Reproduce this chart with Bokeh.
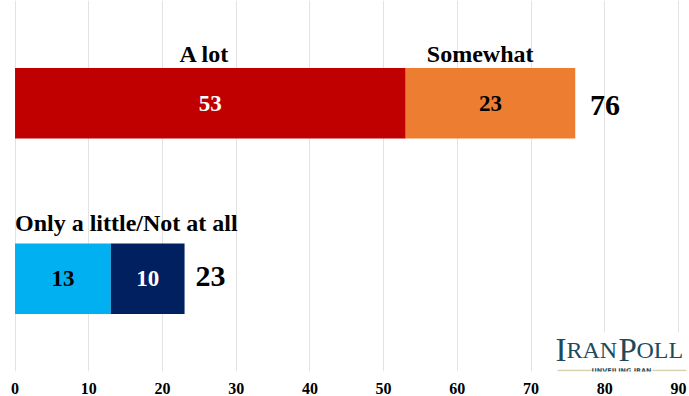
from bokeh.plotting import figure
from bokeh.models import Range1d, Label, BoxAnnotation, FixedTicker, ColumnDataSource
from bokeh.core.properties import value
from bokeh.embed import file_html
from bokeh.resources import INLINE

# ---- data ----
rows = ["A lot / Somewhat", "Only a little / Not at all"]
seg_labels_top = ["A lot", "Somewhat"]
seg_values_top = [53, 23]
seg_colors_top = ["#C00000", "#ED7D31"]
seg_text_colors_top = ["white", "black"]
group_label_bottom = "Only a little/Not at all"
seg_values_bottom = [13, 10]
seg_colors_bottom = ["#00B0F0", "#002060"]
seg_text_colors_bottom = ["black", "white"]
totals = [76, 23]
x_ticks = [0, 10, 20, 30, 40, 50, 60, 70, 80, 90]

row_y = [26.55, 8.85]       # vertical positions of the two bars
bar_h = 7.1

FONT = "Liberation Serif"

p = figure(width=689, height=396, output_backend="svg", toolbar_location=None,
           x_range=Range1d(-1.97, 91.5), y_range=Range1d(-0.5, 36.9),
           min_border_left=0, min_border_right=0, min_border_top=0, min_border_bottom=0)
p.outline_line_color = None
p.background_fill_color = "white"
p.border_fill_color = "white"
p.yaxis.visible = False
p.ygrid.visible = False
p.xgrid.ticker = FixedTicker(ticks=x_ticks)
p.xgrid.grid_line_color = "#E3E3E3"
p.xgrid.grid_line_width = 1
p.xaxis.ticker = FixedTicker(ticks=x_ticks)
p.xaxis.axis_line_color = None
p.xaxis.major_tick_line_color = None
p.xaxis.minor_tick_line_color = None
p.xaxis.major_label_text_font = FONT
p.xaxis.major_label_text_font_style = "bold"
p.xaxis.major_label_text_font_size = "16px"
p.xaxis.major_label_text_color = "black"
p.xaxis.major_label_standoff = 5

def stacked(values, colors, tcolors, y):
    left = 0
    lefts, rights = [], []
    for v in values:
        lefts.append(left)
        rights.append(left + v)
        left += v
    src = ColumnDataSource(dict(left=lefts, right=rights, color=colors,
                                y=[y] * len(values),
                                mid=[(a + b) / 2 for a, b in zip(lefts, rights)],
                                txt=[str(v) for v in values], tc=tcolors))
    p.hbar(y="y", left="left", right="right", height=bar_h, fill_color="color",
           line_color=None, source=src)
    p.text(x="mid", y="y", text="txt", text_color="tc", source=src,
           text_align="center", text_baseline="middle",
           text_font=value(FONT), text_font_style="bold", text_font_size="23px")
    return lefts, rights

lt, rt = stacked(seg_values_top, seg_colors_top, seg_text_colors_top, row_y[0])
lb, rb = stacked(seg_values_bottom, seg_colors_bottom, seg_text_colors_bottom, row_y[1])

# segment titles above top bar
p.text(x=[25.7, 63.1], y=[row_y[0] + 5.0] * 2, text=seg_labels_top,
       text_align="center", text_baseline="middle", text_color="black",
       text_font=value(FONT), text_font_style="bold", text_font_size="24px")
# group title above bottom bar
p.text(x=[0], y=[row_y[1] + 5.6], text=[group_label_bottom],
       text_align="left", text_baseline="middle", text_color="black",
       text_font=value(FONT), text_font_style="bold", text_font_size="24px")

# totals
p.text(x=[rt[-1] + 2.0, rb[-1] + 1.5], y=[row_y[0] - 0.2, row_y[1] + 0.2],
       text=[str(t) for t in totals],
       text_align="left", text_baseline="middle", text_color="black",
       text_font=value(FONT), text_font_style="bold", text_font_size="30px")

# ---- logo (screen units relative to the plot frame) ----
p.add_layout(BoxAnnotation(left=553, right=689, bottom=-20, top=39,
                           left_units="screen", right_units="screen",
                           bottom_units="screen", top_units="screen",
                           fill_color="white", fill_alpha=1, line_color=None))
teal = "#1E4A5C"
for txt, xs, size in [("I", 555, "33px"), ("RAN", 566, "24px"), ("P", 618, "33px"), ("OLL", 636, "24px")]:
    p.add_layout(Label(x=xs, y=22, x_units="screen", y_units="screen", text=txt,
                       text_font=FONT, text_font_size=size, text_color=teal,
                       text_baseline="alphabetic"))
p.add_layout(Label(x=621, y=1, x_units="screen", y_units="screen", text="UNVEILING IRAN",
                   text_font="DejaVu Sans", text_font_size="6.5px", text_color=teal,
                   text_align="center", text_baseline="middle", text_font_style="bold"))
for l, r in [(557, 591), (652, 686)]:
    p.add_layout(BoxAnnotation(left=l, right=r, bottom=0.3, top=1.8,
                               left_units="screen", right_units="screen",
                               bottom_units="screen", top_units="screen",
                               fill_color="#D9CFAE", fill_alpha=1, line_color=None))

open("out.html", "w").write(file_html(p, INLINE))
